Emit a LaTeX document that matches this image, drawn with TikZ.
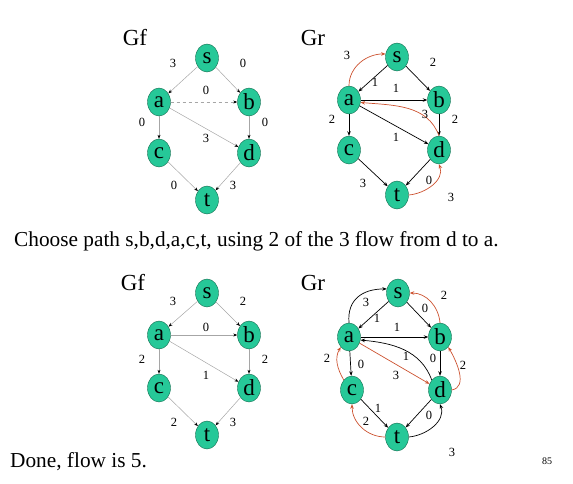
\documentclass[tikz,border=0pt]{standalone}
\usepackage{fontspec}
\setmainfont{Liberation Serif}
\usetikzlibrary{arrows.meta,shapes.geometric}
\definecolor{nodegreen}{RGB}{38,200,152}
\definecolor{nodeline}{RGB}{20,110,80}
\definecolor{flowred}{RGB}{204,82,48}
\tikzset{
  vtx/.style={ellipse, fill=nodegreen, draw=nodeline, line width=0.4pt, minimum width=23pt, minimum height=28pt, inner sep=0pt, font=\fontsize{23}{23}\selectfont},
  wlab/.style={font=\fontsize{12.5}{12.5}\selectfont, inner sep=0pt},
  title/.style={font=\fontsize{23}{23}\selectfont, inner sep=0pt},
  body/.style={font=\fontsize{21.3}{21.3}\selectfont, inner sep=0pt},
  fedge/.style={draw=black!35, line width=0.5pt, -{Stealth[length=4pt,width=3pt,black]}},
  redge/.style={draw=black, line width=0.7pt, -{Stealth[length=4.5pt,width=3.5pt]}},
  flow/.style={draw=flowred, line width=0.7pt, -{Stealth[length=4.5pt,width=3.5pt]}}
}
\begin{document}
\begin{tikzpicture}[x=1pt,y=-1pt]
			%%%%% START %%%%%
			\useasboundingbox (0,0) rectangle (573,483);
			
			% top left: Gf
			\node[title] (gf1) at (135,38) {Gf};
			\node[vtx] (s1) at (207,58) {s};
			\node[vtx] (a1) at (159,102) {a};
			\node[vtx] (b1) at (249,102) {b};
			\node[vtx] (c1) at (159,153) {c};
			\node[vtx] (d1) at (249,153) {d};
			\node[vtx] (t1) at (207,200) {t};
			\draw[fedge] (s1) -- (a1);
			\draw[fedge] (s1) -- (b1);
			\draw[fedge, dashed] (a1) -- (b1);
			\draw[fedge] (a1) -- (c1);
			\draw[fedge] (a1) -- (d1);
			\draw[fedge] (b1) -- (d1);
			\draw[fedge] (c1) -- (t1);
			\draw[fedge] (d1) -- (t1);
			\node[wlab] at (173,63) {3};
			\node[wlab] at (243,63) {0};
			\node[wlab] at (206,90) {0};
			\node[wlab] at (142,122) {0};
			\node[wlab] at (265,122) {0};
			\node[wlab] at (206,138) {3};
			\node[wlab] at (174,185) {0};
			\node[wlab] at (233,185) {3};
			
			% top right: Gr
			\node[title] (gr2) at (313,38) {Gr};
			\node[vtx] (s2) at (397,57) {s};
			\node[vtx] (a2) at (349,100) {a};
			\node[vtx] (b2) at (439,100) {b};
			\node[vtx] (c2) at (349,150) {c};
			\node[vtx] (d2) at (439,150) {d};
			\node[vtx] (t2) at (397,195) {t};
			\draw[redge] (s2) -- (a2);
			\draw[redge] (s2) -- (b2);
			\draw[redge] (a2) -- (b2);
			\draw[redge] (a2) -- (c2);
			\draw[redge] (a2) -- (d2);
			\draw[redge] (b2) -- (d2);
			\draw[redge] (c2) -- (t2);
			\draw[redge] (d2) -- (t2);
			\draw[flow] (a2.north) to[out=90,in=180] (s2.165);
			\draw[flow] (d2.north) to[out=110,in=-5] (a2.-12);
			\draw[flow] (t2.east) to[out=5,in=-70] (d2.south);
			\node[wlab] at (347,55) {3};
			\node[wlab] at (433,62) {2};
			\node[wlab] at (375,82) {1};
			\node[wlab] at (396,88) {1};
			\node[wlab] at (332,119) {2};
			\node[wlab] at (455,119) {2};
			\node[wlab] at (425,114) {3};
			\node[wlab] at (396,137) {1};
			\node[wlab] at (363,183) {3};
			\node[wlab] at (429,180) {0};
			\node[wlab] at (451,197) {3};
			
			\node[body, anchor=west] (txt1) at (14,241) {Choose path s,b,d,a,c,t, using 2 of the 3 flow from d to a.};
			
			% bottom left: Gf
			\node[title] (gf3) at (133,283) {Gf};
			\node[vtx] (s3) at (207,293) {s};
			\node[vtx] (a3) at (159,335) {a};
			\node[vtx] (b3) at (249,335) {b};
			\node[vtx] (c3) at (159,388) {c};
			\node[vtx] (d3) at (249,388) {d};
			\node[vtx] (t3) at (207,435) {t};
			\draw[fedge] (s3) -- (a3);
			\draw[fedge] (s3) -- (b3);
			\draw[fedge] (a3) -- (b3);
			\draw[fedge] (a3) -- (c3);
			\draw[fedge] (a3) -- (d3);
			\draw[fedge] (b3) -- (d3);
			\draw[fedge] (c3) -- (t3);
			\draw[fedge] (d3) -- (t3);
			\node[wlab] at (173,301) {3};
			\node[wlab] at (243,301) {2};
			\node[wlab] at (206,327) {0};
			\node[wlab] at (142,359) {2};
			\node[wlab] at (265,359) {2};
			\node[wlab] at (206,375) {1};
			\node[wlab] at (174,422) {2};
			\node[wlab] at (233,422) {3};
			
			% bottom right: Gr
			\node[title] (gr4) at (313,283) {Gr};
			\node[vtx] (s4) at (398,293) {s};
			\node[vtx] (a4) at (349,337) {a};
			\node[vtx] (b4) at (440,337) {b};
			\node[vtx] (c4) at (352,390) {c};
			\node[vtx] (d4) at (440,390) {d};
			\node[vtx] (t4) at (397,437) {t};
			\draw[redge] (s4) -- (a4);
			\draw[redge] (s4) -- (b4);
			\draw[redge] (a4) -- (b4);
			\draw[redge] (a4) -- (c4);
			\draw[flow] (a4) -- (d4);
			\draw[redge] (b4) -- (d4);
			\draw[redge] (c4) -- (t4);
			\draw[redge] (d4) -- (t4);
			\draw[redge] (a4.north) to[out=95,in=180,looseness=1.2] (s4.160);
			\draw[flow] (b4.north) to[out=95,in=0] (s4.east);
			\draw[redge] (d4.north west) to[out=110,in=-5] (a4.-15);
			\draw[flow] (d4.east) to[out=10,in=-60] (b4.south east);
			\draw[flow] (c4.north west) to[out=120,in=-120] (a4.south west);
			\draw[flow] (t4.west) to[out=180,in=-90] (c4.south);
			\draw[redge] (t4.east) to[out=5,in=-70] (d4.south);
			\node[wlab] at (366,302) {3};
			\node[wlab] at (444,295) {2};
			\node[wlab] at (377,318) {1};
			\node[wlab] at (425,308) {0};
			\node[wlab] at (397,327) {1};
			\node[wlab] at (406,356) {1};
			\node[wlab] at (433,358) {0};
			\node[wlab] at (463,365) {2};
			\node[wlab] at (327,358) {2};
			\node[wlab] at (361,364) {0};
			\node[wlab] at (396,375) {3};
			\node[wlab] at (378,408) {1};
			\node[wlab] at (366,421) {2};
			\node[wlab] at (429,415) {0};
			\node[wlab] at (452,452) {3};
			
			\node[body, anchor=west] (txt2) at (10,462) {Done, flow is 5.};
			\node[font=\fontsize{10}{10}\selectfont, inner sep=0pt] (pg) at (547,461) {85};
			%%%%% END %%%%%
\end{tikzpicture}
\end{document}
